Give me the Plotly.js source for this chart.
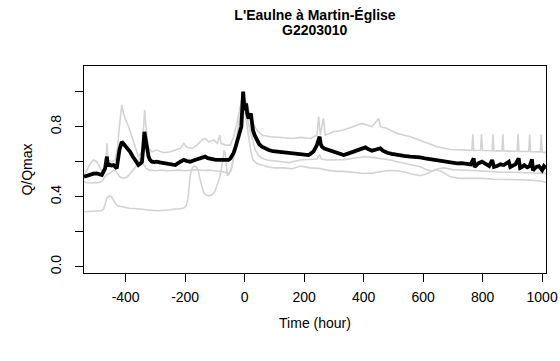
<!DOCTYPE html>
<html>
<head>
<meta charset="utf-8">
<script src="https://cdn.plot.ly/plotly-3.0.1.min.js"></script>
<style>html,body{margin:0;padding:0;background:#fff;}#chart{width:560px;height:361px;}</style>
</head>
<body>
<div id="chart"></div>
<script>
// ---- data ----
const titleMain = "L'Eaulne à Martin-Église";
const titleCode = "G2203010";
const xLabel = "Time (hour)";
const yLabel = "Q/Qmax";
const xTicks = [-400, -200, 0, 200, 400, 600, 800, 1000];
const yTicks = [0, 0.2, 0.4, 0.6, 0.8, 1.0];
const yTickText = ["0.0", "", "0.4", "", "0.8", ""];

// grey event 1: low before the flood, then middle band
const grey1T = [-540,-525,-510,-495,-482,-474,-468,-462,-455,-448,-442,-436,-428,-415,-400,-385,-370,-350,-330,-310,-290,-270,-250,-235,-220,-205,-196,-190,-186,-182,-177,-170,-162,-156,-150,-144,-138,-130,-120,-110,-100,-92,-84,-78,-74,-69,-65,-62,-58,-52,-45,-38,-30,-22,-14,-6,-2,3,10,18,26,35,45,58,75,95,120,150,187,221,243,252,258,277,299,333,366,400,430,456,490,512,540,557,590,610,630,650,670,700,740,780,820,860,900,940,980,1013];
const grey1Q = [0.314,0.316,0.314,0.318,0.32,0.33,0.37,0.395,0.405,0.40,0.385,0.365,0.35,0.345,0.338,0.333,0.333,0.328,0.325,0.322,0.32,0.322,0.325,0.33,0.33,0.335,0.35,0.40,0.47,0.53,0.56,0.575,0.57,0.55,0.50,0.455,0.425,0.41,0.405,0.41,0.43,0.47,0.51,0.56,0.62,0.665,0.64,0.56,0.52,0.53,0.56,0.62,0.70,0.78,0.86,0.93,0.95,0.90,0.84,0.78,0.72,0.67,0.64,0.62,0.61,0.605,0.60,0.595,0.61,0.612,0.615,0.64,0.615,0.61,0.61,0.612,0.62,0.628,0.625,0.62,0.61,0.60,0.59,0.585,0.571,0.555,0.545,0.56,0.565,0.555,0.55,0.548,0.545,0.54,0.54,0.538,0.535,0.533];

// grey event 2: upper band
const grey2T = [-539,-530,-519,-508,-497,-485,-474,-467,-463,-459,-446,-435,-427,-421,-413,-407,-402,-390,-379,-368,-357,-345,-340,-336,-333,-328,-323,-312,-295,-272,-250,-233,-216,-205,-194,-177,-160,-143,-132,-121,-104,-91,-84,-79,-65,-48,-37,-26,-15,-8,-1,8,17,28,41,58,86,120,165,187,221,243,249,254,265,271,299,333,366,394,411,428,451,456,479,512,557,602,647,692,737,764,767,770,793,796,800,832,835,838,865,868,871,916,919,922,955,958,961,994,997,1000,1013];
const grey2Q = [0.524,0.552,0.59,0.61,0.60,0.562,0.533,0.571,0.705,0.61,0.60,0.61,0.686,0.80,0.924,0.876,0.848,0.80,0.743,0.676,0.629,0.657,0.80,0.895,0.819,0.724,0.676,0.657,0.667,0.651,0.657,0.667,0.676,0.705,0.682,0.676,0.695,0.724,0.733,0.714,0.724,0.705,0.752,0.705,0.695,0.695,0.743,0.819,0.914,0.971,0.962,0.933,0.876,0.819,0.781,0.752,0.743,0.739,0.733,0.739,0.733,0.752,0.857,0.752,0.848,0.752,0.771,0.781,0.80,0.819,0.81,0.80,0.848,0.80,0.79,0.762,0.743,0.714,0.686,0.67,0.668,0.665,0.757,0.664,0.665,0.757,0.664,0.663,0.757,0.662,0.662,0.757,0.661,0.66,0.757,0.659,0.658,0.755,0.657,0.656,0.755,0.655,0.652];

// grey event 3: lower band
const grey3T = [-540,-528,-515,-500,-490,-478,-470,-462,-452,-440,-430,-420,-410,-398,-388,-376,-366,-358,-352,-346,-338,-330,-320,-300,-280,-260,-240,-220,-200,-180,-160,-140,-120,-100,-80,-65,-54,-46,-40,-32,-24,-16,-10,-5,0,6,13,21,28,41,58,80,100,130,160,187,221,250,277,310,333,366,400,430,456,480,510,540,560,590,610,640,660,690,720,760,800,840,880,920,960,1000,1013];
const grey3Q = [0.486,0.48,0.478,0.482,0.48,0.49,0.515,0.525,0.535,0.552,0.54,0.515,0.505,0.51,0.525,0.552,0.571,0.60,0.62,0.60,0.58,0.56,0.552,0.548,0.552,0.548,0.55,0.552,0.548,0.552,0.555,0.55,0.552,0.548,0.545,0.54,0.533,0.55,0.59,0.68,0.78,0.86,0.93,0.95,0.90,0.84,0.75,0.66,0.61,0.59,0.58,0.57,0.565,0.565,0.56,0.575,0.565,0.562,0.552,0.545,0.545,0.54,0.533,0.535,0.545,0.55,0.548,0.54,0.53,0.52,0.53,0.555,0.545,0.515,0.505,0.505,0.505,0.50,0.50,0.497,0.495,0.488,0.48];

// black: the event shown
const blackT = [-540,-530,-519,-508,-497,-488,-480,-474,-469,-463,-460,-455,-448,-441,-435,-430,-425,-421,-413,-406,-402,-394,-385,-376,-368,-362,-357,-350,-345,-340,-337,-334,-331,-327,-323,-318,-312,-303,-295,-285,-272,-261,-250,-240,-233,-225,-215,-205,-195,-183,-172,-160,-148,-140,-133,-124,-115,-110,-100,-88,-75,-64,-54,-48,-43,-37,-32,-26,-20,-15,-11,-8,-5,-2,0,3,5,9,13,17,21,25,28,34,41,49,58,70,81,95,109,130,153,170,187,200,215,221,232,243,249,252,256,260,268,277,288,299,315,333,345,355,365,374,390,406,415,428,442,456,466,479,495,512,535,557,575,590,612,635,652,669,690,714,730,748,760,770,773,776,785,798,808,815,822,832,838,848,860,871,880,888,893,899,910,921,926,933,940,950,958,966,969,972,980,989,995,1000,1006,1013];
const blackQ = [0.514,0.52,0.524,0.532,0.533,0.526,0.524,0.545,0.562,0.629,0.575,0.585,0.578,0.581,0.57,0.562,0.62,0.667,0.714,0.70,0.695,0.675,0.657,0.63,0.61,0.59,0.581,0.59,0.6,0.70,0.771,0.74,0.705,0.66,0.629,0.61,0.6,0.598,0.6,0.596,0.592,0.59,0.588,0.584,0.581,0.59,0.603,0.61,0.604,0.6,0.607,0.613,0.62,0.625,0.629,0.62,0.615,0.613,0.612,0.61,0.608,0.61,0.61,0.618,0.629,0.65,0.676,0.71,0.743,0.77,0.8,0.9,1.0,0.93,0.895,0.92,0.933,0.87,0.848,0.86,0.876,0.82,0.781,0.75,0.724,0.70,0.686,0.675,0.667,0.66,0.657,0.652,0.648,0.646,0.644,0.64,0.638,0.644,0.66,0.695,0.72,0.743,0.70,0.686,0.675,0.67,0.662,0.657,0.648,0.638,0.645,0.651,0.652,0.657,0.67,0.682,0.672,0.663,0.67,0.676,0.662,0.651,0.645,0.638,0.633,0.629,0.627,0.625,0.617,0.61,0.605,0.6,0.595,0.59,0.592,0.59,0.585,0.619,0.57,0.575,0.59,0.6,0.59,0.587,0.575,0.61,0.57,0.575,0.585,0.581,0.59,0.6,0.57,0.575,0.585,0.619,0.565,0.571,0.58,0.568,0.575,0.613,0.55,0.556,0.57,0.575,0.56,0.552,0.575,0.562];

// ---- drawing ----
const fam = "'Liberation Sans', Arial, sans-serif";
const font = {family: fam, size: 14, color: "#000"};
const titleFont = {family: fam, size: 14, color: "#000"};
const grey = "#d3d3d3";
const traces = [
  {x: grey1T, y: grey1Q, mode: "lines", line: {color: grey, width: 1.6}, hoverinfo: "skip"},
  {x: grey2T, y: grey2Q, mode: "lines", line: {color: grey, width: 1.6}, hoverinfo: "skip"},
  {x: grey3T, y: grey3Q, mode: "lines", line: {color: grey, width: 1.6}, hoverinfo: "skip"},
  {x: blackT, y: blackQ, mode: "lines", line: {color: "#000", width: 3.8}, hoverinfo: "skip"}
];
const layout = {
  width: 560, height: 361,
  margin: {l: 84, r: 14, t: 66, b: 88, pad: 0},
  paper_bgcolor: "#fff", plot_bgcolor: "#fff",
  showlegend: false,
  font: font,
  title: {
    text: "<b>" + titleMain + "</b>",
    font: titleFont,
    x: 0.5, xref: "paper", xanchor: "center",
    y: 1 - 15 / 361, yref: "container", yanchor: "middle"
  },
  annotations: [{
    text: "<b>" + titleCode + "</b>", font: titleFont, showarrow: false,
    xref: "paper", x: 0.5, xanchor: "center",
    yref: "paper", y: 1 + (66 - 30.5) / 207, yanchor: "middle"
  }],
  xaxis: {
    range: [-540, 1013], fixedrange: true,
    tickvals: xTicks, ticktext: xTicks.map(String),
    ticks: "outside", ticklen: 8, tickwidth: 1, tickcolor: "#000",
    showline: true, mirror: true, linecolor: "#000", linewidth: 1.2,
    showgrid: false, zeroline: false,
    ticklabelstandoff: 3,
    tickfont: font,
    title: {text: xLabel, font: font, standoff: 14}
  },
  yaxis: {
    range: [-0.036, 1.147], fixedrange: true,
    tickvals: yTicks, ticktext: yTickText, tickangle: -90,
    ticks: "outside", ticklen: 8, tickwidth: 1, tickcolor: "#000",
    showline: true, mirror: true, linecolor: "#000", linewidth: 1.2,
    showgrid: false, zeroline: false,
    ticklabelstandoff: 8,
    tickfont: font,
    title: {text: yLabel, font: font, standoff: 12}
  }
};
Plotly.newPlot("chart", traces, layout, {staticPlot: true, displayModeBar: false});
</script>
</body>
</html>
